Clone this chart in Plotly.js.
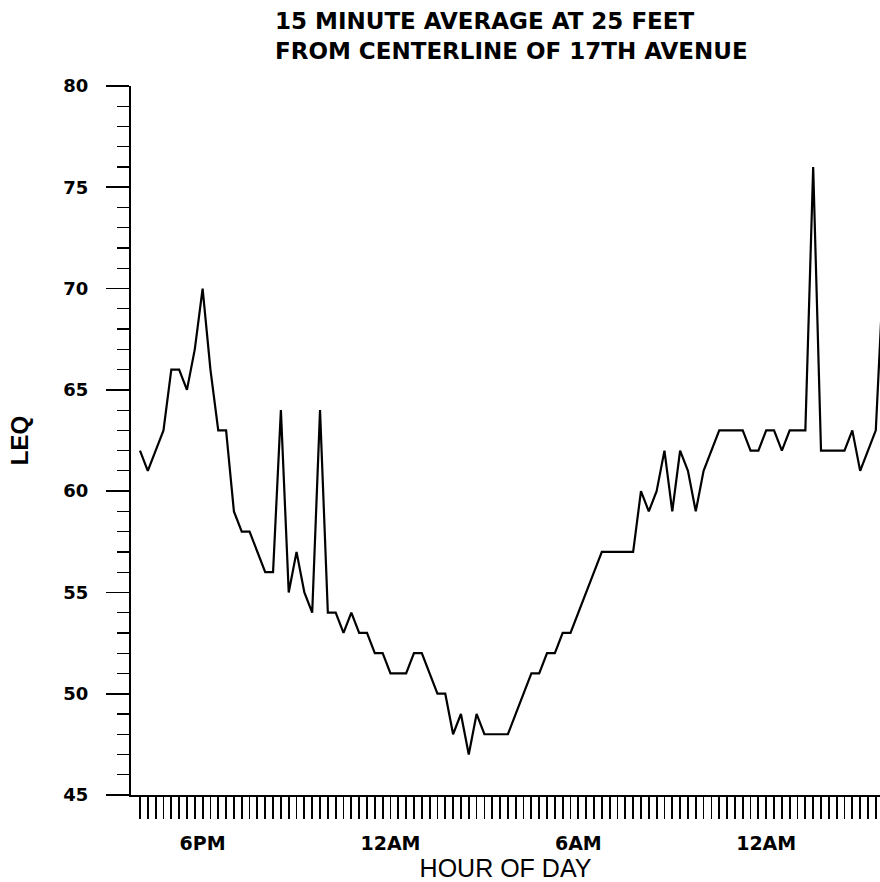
<!DOCTYPE html>
<html><head><meta charset="utf-8">
<script src="https://cdn.plot.ly/plotly-3.0.1.min.js"></script>
<style>html,body{margin:0;padding:0;background:#fff}</style>
</head><body><div id="chart" style="width:880px;height:882px"></div>
<script>
// 15-minute LEQ readings, first reading at 4 PM
const startHour = 16;
const stepHours = 0.25;
const leq = [62,61,62,63,66,66,65,67,70,66,
             63,63,59,58,58,57,56,56,64,55,
             57,55,54,64,54,54,53,54,53,53,
             52,52,51,51,51,52,52,51,50,50,
             48,49,47,49,48,48,48,48,49,50,
             51,51,52,52,53,53,54,55,56,57,
             57,57,57,57,60,59,60,62,59,62,
             61,59,61,62,63,63,63,63,62,62,
             63,63,62,63,63,63,76,62,62,62,
             62,63,61,62,63,71];
const labelHours = [18, 24, 30, 36];
const labelText = ["6PM", "12AM", "6AM", "12AM"];
const yTickVals = [45, 50, 55, 60, 65, 70, 75, 80];
const titleLines = ["15 MINUTE AVERAGE AT 25 FEET", "FROM CENTERLINE OF 17TH AVENUE"];

const hours = leq.map((v, i) => startHour + i * stepHours);
const xRange = [15.713, 39.634];

const tickvals = [], ticktext = [];
for (let h = startHour; h <= xRange[1]; h += stepHours) {
  tickvals.push(h);
  const k = labelHours.indexOf(h);
  ticktext.push(k >= 0 ? labelText[k] : "");
}

const trace = {
  x: hours, y: leq, type: "scatter", mode: "lines",
  line: {color: "#000", width: 2.2}, hoverinfo: "skip"
};

const layout = {
  width: 880, height: 882,
  margin: {l: 131, r: 0, t: 86, b: 87},
  paper_bgcolor: "#fff", plot_bgcolor: "#fff",
  showlegend: false,
  xaxis: {
    range: xRange, tickmode: "array", tickvals: tickvals, ticktext: ticktext,
    ticks: "outside", ticklen: 22, tickwidth: 1.8, tickcolor: "#000",
    showline: true, linecolor: "#000", linewidth: 2,
    showgrid: false, zeroline: false,
    ticklabelstandoff: 8,
    tickfont: {family: "DejaVu Sans", size: 19, color: "#000", weight: "bold"},
    title: {text: "HOUR OF DAY", standoff: 8,
            font: {family: "Liberation Sans, Arial", size: 25, color: "#000"}}
  },
  yaxis: {
    range: [45, 80], tickmode: "array", tickvals: yTickVals,
    ticks: "outside", ticklen: 23, tickwidth: 1.6, tickcolor: "#000",
    minor: {dtick: 1, ticklen: 12, tickwidth: 1.2, tickcolor: "#000", ticks: "outside", showgrid: false},
    showline: true, linecolor: "#000", linewidth: 2,
    showgrid: false, zeroline: false,
    ticklabelstandoff: 14,
    tickfont: {family: "DejaVu Sans", size: 18, color: "#000", weight: "bold"},
    title: {text: "LEQ", standoff: 28,
            font: {family: "Liberation Sans, Arial", size: 24, color: "#000", weight: "bold"}}
  },
  annotations: [
    {text: "<b>" + titleLines[0] + "</b><br><b>" + titleLines[1] + "</b>",
     xref: "paper", yref: "paper", x: 0.1896, y: 1.0705,
     xanchor: "left", yanchor: "middle", align: "left", showarrow: false,
     font: {family: "DejaVu Sans", size: 23, color: "#000"}}
  ]
};

Plotly.newPlot("chart", [trace], layout, {staticPlot: true, displayModeBar: false});
</script></body></html>
